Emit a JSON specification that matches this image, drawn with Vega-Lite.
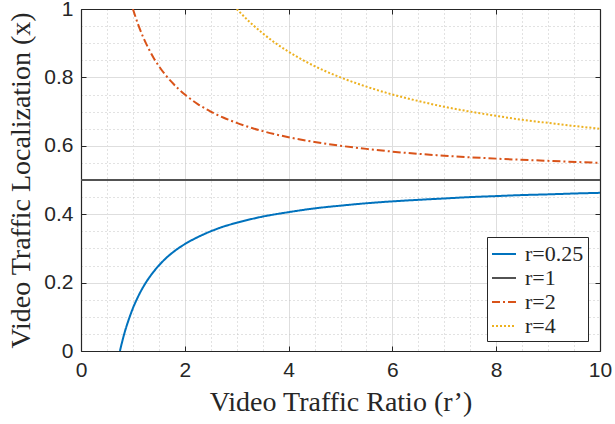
{
  "$schema": "https://vega.github.io/schema/vega-lite/v6.json",
  "autosize": "none",
  "width": 519,
  "height": 342,
  "padding": {"left": 81, "top": 9, "right": 15, "bottom": 73},
  "background": "white",
  "config": {
    "view": {"stroke": null},
    "axis": {"labelFont": "Liberation Sans", "labelFontSize": 21, "labelColor": "#262626", "titleFont": "Liberation Serif", "titleFontSize": 28, "titleFontWeight": "normal", "titleColor": "#262626", "domainColor": "#262626", "tickColor": "#262626", "labelFlush": false, "labelOverlap": false, "labelBound": false},
    "legend": {"symbolType": "stroke", "symbolSize": 576, "symbolStrokeWidth": 2, "labelFont": "Liberation Serif", "labelFontSize": 22, "labelColor": "#262626", "labelOffset": 8, "rowPadding": 0, "padding": 4, "fillColor": "white", "strokeColor": "#262626", "labelLimit": 200, "titlePadding": 0}
  },
  "datasets": {
    "frame": [{"rp": 0, "x": 0}, {"rp": 10, "x": 1}],
    "curves": [
      {"series": "r=0.25", "rp": 0.75, "x": 0},
      {"series": "r=0.25", "rp": 0.8, "x": 0.031},
      {"series": "r=0.25", "rp": 0.85, "x": 0.059},
      {"series": "r=0.25", "rp": 0.9, "x": 0.083},
      {"series": "r=0.25", "rp": 0.95, "x": 0.105},
      {"series": "r=0.25", "rp": 1.0, "x": 0.125},
      {"series": "r=0.25", "rp": 1.1, "x": 0.159},
      {"series": "r=0.25", "rp": 1.2, "x": 0.1875},
      {"series": "r=0.25", "rp": 1.3, "x": 0.2115},
      {"series": "r=0.25", "rp": 1.4, "x": 0.232},
      {"series": "r=0.25", "rp": 1.5, "x": 0.25},
      {"series": "r=0.25", "rp": 1.6, "x": 0.266},
      {"series": "r=0.25", "rp": 1.8, "x": 0.292},
      {"series": "r=0.25", "rp": 2.0, "x": 0.3125},
      {"series": "r=0.25", "rp": 2.25, "x": 0.333},
      {"series": "r=0.25", "rp": 2.5, "x": 0.35},
      {"series": "r=0.25", "rp": 2.75, "x": 0.364},
      {"series": "r=0.25", "rp": 3.0, "x": 0.375},
      {"series": "r=0.25", "rp": 3.5, "x": 0.393},
      {"series": "r=0.25", "rp": 4.0, "x": 0.406},
      {"series": "r=0.25", "rp": 4.5, "x": 0.417},
      {"series": "r=0.25", "rp": 5.0, "x": 0.425},
      {"series": "r=0.25", "rp": 5.5, "x": 0.432},
      {"series": "r=0.25", "rp": 6.0, "x": 0.4375},
      {"series": "r=0.25", "rp": 6.5, "x": 0.442},
      {"series": "r=0.25", "rp": 7.0, "x": 0.446},
      {"series": "r=0.25", "rp": 7.5, "x": 0.45},
      {"series": "r=0.25", "rp": 8.0, "x": 0.453},
      {"series": "r=0.25", "rp": 8.5, "x": 0.456},
      {"series": "r=0.25", "rp": 9.0, "x": 0.458},
      {"series": "r=0.25", "rp": 9.5, "x": 0.4605},
      {"series": "r=0.25", "rp": 10.0, "x": 0.4625},
      {"series": "r=1", "rp": 0, "x": 0.5},
      {"series": "r=1", "rp": 10, "x": 0.5},
      {"series": "r=2", "rp": 1.0, "x": 1.0},
      {"series": "r=2", "rp": 1.1, "x": 0.955},
      {"series": "r=2", "rp": 1.2, "x": 0.917},
      {"series": "r=2", "rp": 1.3, "x": 0.885},
      {"series": "r=2", "rp": 1.4, "x": 0.857},
      {"series": "r=2", "rp": 1.5, "x": 0.833},
      {"series": "r=2", "rp": 1.75, "x": 0.786},
      {"series": "r=2", "rp": 2.0, "x": 0.75},
      {"series": "r=2", "rp": 2.25, "x": 0.722},
      {"series": "r=2", "rp": 2.5, "x": 0.7},
      {"series": "r=2", "rp": 2.75, "x": 0.682},
      {"series": "r=2", "rp": 3.0, "x": 0.667},
      {"series": "r=2", "rp": 3.5, "x": 0.643},
      {"series": "r=2", "rp": 4.0, "x": 0.625},
      {"series": "r=2", "rp": 4.5, "x": 0.611},
      {"series": "r=2", "rp": 5.0, "x": 0.6},
      {"series": "r=2", "rp": 5.5, "x": 0.591},
      {"series": "r=2", "rp": 6.0, "x": 0.583},
      {"series": "r=2", "rp": 7.0, "x": 0.571},
      {"series": "r=2", "rp": 8.0, "x": 0.5625},
      {"series": "r=2", "rp": 9.0, "x": 0.556},
      {"series": "r=2", "rp": 10.0, "x": 0.55},
      {"series": "r=4", "rp": 3.0, "x": 1.0},
      {"series": "r=4", "rp": 3.25, "x": 0.962},
      {"series": "r=4", "rp": 3.5, "x": 0.929},
      {"series": "r=4", "rp": 3.75, "x": 0.9},
      {"series": "r=4", "rp": 4.0, "x": 0.875},
      {"series": "r=4", "rp": 4.5, "x": 0.833},
      {"series": "r=4", "rp": 5.0, "x": 0.8},
      {"series": "r=4", "rp": 5.5, "x": 0.773},
      {"series": "r=4", "rp": 6.0, "x": 0.75},
      {"series": "r=4", "rp": 6.5, "x": 0.731},
      {"series": "r=4", "rp": 7.0, "x": 0.714},
      {"series": "r=4", "rp": 7.5, "x": 0.7},
      {"series": "r=4", "rp": 8.0, "x": 0.6875},
      {"series": "r=4", "rp": 8.5, "x": 0.676},
      {"series": "r=4", "rp": 9.0, "x": 0.667},
      {"series": "r=4", "rp": 9.5, "x": 0.658},
      {"series": "r=4", "rp": 10.0, "x": 0.65}
    ]
  },
  "resolve": {"axis": {"x": "independent", "y": "independent"}},
  "layer": [
    {
      "data": {"name": "frame"},
      "mark": {"type": "point", "opacity": 0},
      "encoding": {
        "x": {"field": "rp", "type": "quantitative", "scale": {"domain": [0, 10], "nice": false, "zero": false},
          "axis": {"orient": "bottom", "values": [0.5, 1, 1.5, 2.5, 3, 3.5, 4.5, 5, 5.5, 6.5, 7, 7.5, 8.5, 9, 9.5], "grid": true, "gridColor": "#c4c4c4", "gridDash": [1, 3], "gridWidth": 1, "ticks": false, "labels": false, "domain": false, "title": null}},
        "y": {"field": "x", "type": "quantitative", "scale": {"domain": [0, 1], "nice": false, "zero": false},
          "axis": {"orient": "left", "values": [0.05, 0.1, 0.15, 0.25, 0.3, 0.35, 0.45, 0.5, 0.55, 0.65, 0.7, 0.75, 0.85, 0.9, 0.95], "grid": true, "gridColor": "#c4c4c4", "gridDash": [1, 3], "gridWidth": 1, "ticks": false, "labels": false, "domain": false, "title": null}}
      }
    },
    {
      "data": {"name": "frame"},
      "mark": {"type": "point", "opacity": 0},
      "encoding": {
        "x": {"field": "rp", "type": "quantitative", "scale": {"domain": [0, 10], "nice": false, "zero": false},
          "axis": {"orient": "top", "values": [0, 2, 4, 6, 8, 10], "grid": false, "ticks": true, "tickSize": -5, "labels": false, "domain": true, "domainWidth": 1.2, "title": null}},
        "y": {"field": "x", "type": "quantitative", "scale": {"domain": [0, 1], "nice": false, "zero": false},
          "axis": {"orient": "right", "values": [0, 0.2, 0.4, 0.6, 0.8, 1], "grid": false, "ticks": true, "tickSize": -5, "labels": false, "domain": true, "domainWidth": 1.2, "title": null}}
      }
    },
    {
      "data": {"name": "curves"},
      "mark": {"type": "line", "strokeWidth": 2, "interpolate": "monotone", "clip": true},
      "encoding": {
        "x": {"field": "rp", "type": "quantitative", "scale": {"domain": [0, 10], "nice": false, "zero": false},
          "axis": {"orient": "bottom", "values": [0, 2, 4, 6, 8, 10], "format": "d", "grid": true, "gridColor": "#dedede", "gridWidth": 1, "ticks": true, "tickSize": -5, "labelPadding": 13, "domain": true, "domainWidth": 1.2, "title": "Video Traffic Ratio (r’)", "titleX": 259.5, "titleY": 51, "titleBaseline": "middle", "titleAlign": "center"}},
        "y": {"field": "x", "type": "quantitative", "scale": {"domain": [0, 1], "nice": false, "zero": false},
          "axis": {"orient": "left", "values": [0, 0.2, 0.4, 0.6, 0.8, 1], "format": ".1~f", "grid": true, "gridColor": "#dedede", "gridWidth": 1, "ticks": true, "tickSize": -5, "labelPadding": 13, "domain": true, "domainWidth": 1.2, "title": "Video Traffic Localization (x)", "titleX": -60, "titleY": 171, "titleBaseline": "middle", "titleAlign": "center", "titleAngle": -90}},
        "color": {"field": "series", "type": "nominal",
          "scale": {"domain": ["r=0.25", "r=1", "r=2", "r=4"], "range": ["#0072BD", "#525252", "#D95319", "#EDB120"]},
          "legend": {"orient": "none", "legendX": 406, "legendY": 228, "title": null}},
        "strokeDash": {"field": "series", "type": "nominal",
          "scale": {"domain": ["r=0.25", "r=1", "r=2", "r=4"], "range": [[1, 0], [1, 0], [8, 3, 2, 3], [2, 2]]},
          "legend": {"orient": "none", "legendX": 406, "legendY": 228, "title": null}}
      }
    }
  ]
}
